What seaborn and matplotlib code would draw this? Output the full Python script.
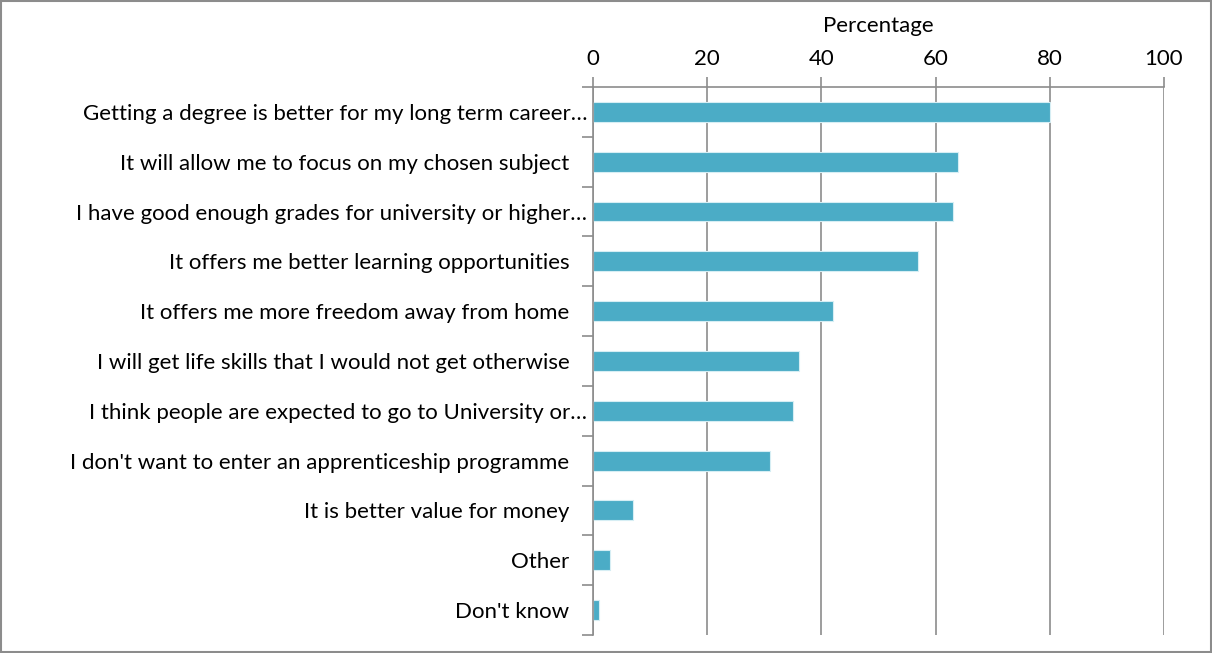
import matplotlib
matplotlib.use("Agg")
import matplotlib.pyplot as plt
import seaborn as sns
import pandas as pd
import numpy as np
from matplotlib.ticker import FixedLocator

reasons = [
    "Getting a degree is better for my long term career…",
    "It will allow me to focus on my chosen subject",
    "I have good enough grades for university or higher…",
    "It offers me better learning opportunities",
    "It offers me more freedom away from home",
    "I will get life skills that I would not get otherwise",
    "I think people are expected to go to University or…",
    "I don't want to enter an apprenticeship programme",
    "It is better value for money",
    "Other",
    "Don't know",
]
percentages = [80, 64, 63, 57, 42, 36, 35, 31, 7, 3, 1]
truncated = [True, False, True, False, False, False, True, False, False, False, False]

df = pd.DataFrame({"Reason": reasons, "Percentage": percentages})

sns.set_style("white")
plt.rcParams["font.family"] = ["Lato", "DejaVu Sans"]
plt.rcParams["text.color"] = "black"
plt.rcParams["xtick.labelcolor"] = "black"
plt.rcParams["ytick.labelcolor"] = "black"
plt.rcParams["axes.labelcolor"] = "black"

grey = "#8c8c8c"

fig = plt.figure(figsize=(12.12, 6.53), dpi=100)
ax = fig.add_axes([0.4893, 0.0276, 0.9604 - 0.4893, 0.8668 - 0.0276])

sns.barplot(
    data=df,
    x="Percentage",
    y="Reason",
    color="#4BACC6",
    width=0.4,
    edgecolor="#d6eef4",
    linewidth=0.8,
    saturation=1,
    ax=ax
)

ax.set_xlim(0, 100)
ax.set_ylim(len(reasons) - 0.5, -0.5)
ax.set_xticks([0, 20, 40, 60, 80, 100])
ax.xaxis.tick_top()
ax.xaxis.set_label_position("top")
ax.set_xlabel("Percentage", fontsize=16, labelpad=12)
ax.set_ylabel("")

ax.grid(axis="x", color=grey, linewidth=1.2)
ax.set_axisbelow(True)

for side in ["right", "bottom"]:
    ax.spines[side].set_visible(False)
for side in ["left", "top"]:
    ax.spines[side].set_color(grey)
    ax.spines[side].set_linewidth(1.2)

ax.tick_params(axis="x", which="major", top=True, bottom=False, length=7,
               color=grey, width=1.2, labelsize=16, pad=6)
ax.tick_params(axis="y", which="major", left=False, length=0, labelsize=16)
ax.yaxis.set_minor_locator(FixedLocator(np.arange(-0.5, len(reasons), 1.0)))
ax.tick_params(axis="y", which="minor", left=True, length=8, color=grey, width=1.2)

for tick, cut in zip(ax.yaxis.get_major_ticks(), truncated):
    tick.set_pad(4 if cut else 17)

fig.patches.append(plt.Rectangle((0.001, 0.001), 0.998, 0.998, transform=fig.transFigure,
                                 fill=False, edgecolor=grey, linewidth=1.5))

fig.savefig("out.png", dpi=100)
